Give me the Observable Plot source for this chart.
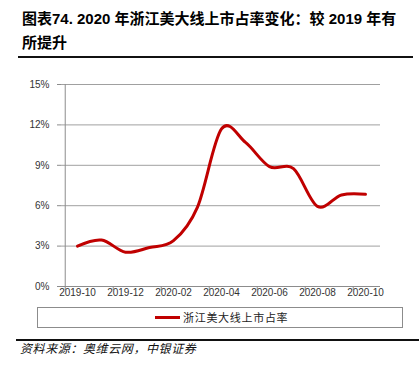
<!DOCTYPE html>
<html><head><meta charset="utf-8">
<script src="https://cdn.jsdelivr.net/npm/d3@7"></script>
<script src="https://cdn.jsdelivr.net/npm/@observablehq/plot@0.6"></script>
<style>
body{margin:0;background:#fff;}
#wrap{position:relative;width:419px;height:372px;overflow:hidden;background:#fff;font-family:"Liberation Sans","Noto Sans CJK SC",sans-serif;}
#title{position:absolute;left:22px;top:7px;font-size:15px;line-height:24px;font-weight:bold;color:#000;white-space:nowrap;}
.rule{position:absolute;left:18px;right:6px;height:1.5px;background:#111;}
#chart{position:absolute;left:0;top:60px;}
#legend{position:absolute;left:37px;top:307px;width:364px;height:19px;border:1px solid #8c8c8c;background:#fff;}
#legend .sw{position:absolute;left:117px;top:8px;width:25px;height:3px;background:#c00000;}
#legend .lt{position:absolute;left:145px;top:0;line-height:19px;font-size:11px;letter-spacing:0.7px;color:#222;font-family:"Noto Sans CJK SC",sans-serif;}
#source{position:absolute;left:20px;top:340px;font-size:12px;line-height:16px;font-style:italic;letter-spacing:0.6px;color:#111;font-family:"Noto Sans CJK SC",sans-serif;}
</style></head><body>
<div id="wrap">
<div id="title"></div>
<div class="rule" style="top:56px"></div>
<div id="chart"></div>
<div id="legend"><span class="sw"></span><span class="lt"></span></div>
<div class="rule" style="top:339px;left:16px;right:0"></div>
<div id="source"></div>
</div>
<script>
const titleLines = ["图表74. 2020 年浙江美大线上市占率变化：较 2019 年有", "所提升"];
const sourceText = "资料来源：奥维云网，中银证券";
const seriesName = "浙江美大线上市占率";
const months = ["2019-10","2019-11","2019-12","2020-01","2020-02","2020-03","2020-04","2020-05","2020-06","2020-07","2020-08","2020-09","2020-10"];
const share = [3.0, 3.45, 2.55, 2.9, 3.4, 5.9, 11.7, 10.7, 8.9, 8.75, 5.95, 6.8, 6.85];
const yTicks = [0, 3, 6, 9, 12, 15];
const xTickLabels = ["2019-10","2019-12","2020-02","2020-04","2020-06","2020-08","2020-10"];

document.getElementById("title").innerHTML = titleLines.join("<br>");
document.getElementById("source").textContent = sourceText;
document.querySelector("#legend .lt").textContent = seriesName;

const W = 419, H = 240, ml = 61, mr = 39, mt = 24, mb = 14;
const step = (W - ml - mr) / months.length;
const data = months.map((m, i) => ({month: m, value: share[i]}));

const plot = Plot.plot({
  width: W, height: H,
  marginLeft: ml, marginRight: mr, marginTop: mt, marginBottom: mb,
  style: {fontFamily: "Liberation Sans, Arial, sans-serif", fontSize: "10px", color: "#333", background: "transparent", overflow: "visible"},
  x: {type: "point", domain: months, padding: 0.5, label: null},
  y: {domain: [0, 15], label: null},
  marks: [
    Plot.gridY(yTicks.filter(t => t > 0), {stroke: "#a0a0a0", strokeOpacity: 1, strokeWidth: 1}),
    Plot.ruleY([0], {stroke: "#8c8c8c"}),
    Plot.ruleX([months[0]], {y1: 0, y2: 15, dx: -step / 2, stroke: "#8c8c8c"}),
    Plot.axisY(yTicks, {tickSize: 4, tickPadding: 8, tickFormat: d => d + "%", stroke: "#8c8c8c", fill: "#333", fontSize: 10}),
    Plot.axisX(xTickLabels, {tickSize: 4, text: null, dx: -step / 2, stroke: "#8c8c8c"}),
    Plot.axisX(xTickLabels, {tickSize: 0, tickPadding: 2, fill: "#333", fontSize: 10}),
    Plot.lineY(data, {x: "month", y: "value", stroke: "#c00000", strokeWidth: 3, curve: "cardinal"})
  ]
});
document.getElementById("chart").appendChild(plot);
</script>
</body></html>
